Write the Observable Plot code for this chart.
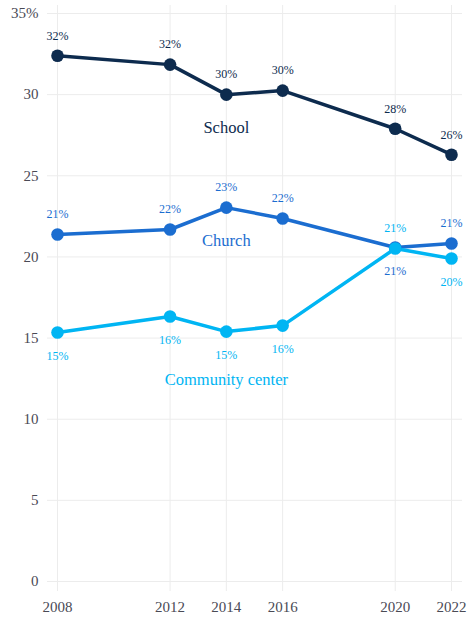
<!DOCTYPE html>
<html>
<head>
<meta charset="utf-8">
<script src="https://cdn.jsdelivr.net/npm/d3@7"></script>
<script src="https://cdn.jsdelivr.net/npm/@observablehq/plot@0.6"></script>
<style>
  html, body { margin: 0; padding: 0; background: #fff; }
  #chart svg { display: block; }
</style>
</head>
<body>
<div id="chart"></div>
<script>
const years = [2008, 2012, 2014, 2016, 2020, 2022];
const seriesNames = ["School", "Church", "Community center"];
const schoolValues = [32.4, 31.85, 30.0, 30.25, 27.9, 26.3];
const churchValues = [21.38, 21.69, 23.04, 22.37, 20.58, 20.83];
const communityValues = [15.34, 16.33, 15.4, 15.77, 20.52, 19.9];
const schoolPlacement = ["above", "above", "above", "above", "above", "above"];
const churchPlacement = ["above", "above", "above", "above", "below", "above"];
const communityPlacement = ["below", "below", "below", "below", "above", "below"];
const colors = ["#0d2b4e", "#1b6dd0", "#00b5f3"];
const nameYears = [2014, 2014, 2014];
const nameValues = [27.97, 21.0, 12.45];
const yTicks = [0, 5, 10, 15, 20, 25, 30, 35];

const valuesBySeries = [schoolValues, churchValues, communityValues];
const placeBySeries = [schoolPlacement, churchPlacement, communityPlacement];
const rows = [];
seriesNames.forEach((s, i) => {
  years.forEach((y, j) => {
    rows.push({series: s, year: y, value: valuesBySeries[i][j], place: placeBySeries[i][j]});
  });
});
const names = seriesNames.map((s, i) => ({series: s, year: nameYears[i], value: nameValues[i]}));

const font = "'Liberation Serif', 'DejaVu Serif', serif";
const colorScale = {domain: seriesNames, range: colors};

const plot = Plot.plot({
  width: 468,
  height: 623,
  marginTop: 5,
  marginBottom: 32,
  marginLeft: 47,
  marginRight: 6,
  style: {fontFamily: font, background: "#fff"},
  x: {domain: [2008, 2022], insetLeft: 10, insetRight: 11, ticks: years, tickFormat: d => String(d), label: null},
  y: {domain: [0, 35], insetTop: 8, insetBottom: 10, ticks: yTicks, label: null},
  color: colorScale,
  marks: [
    Plot.ruleY(yTicks, {stroke: "#ececec", strokeWidth: 1}),
    Plot.ruleX(years, {stroke: "#ececec", strokeWidth: 1}),
    Plot.axisX({ticks: years, tickSize: 0, tickPadding: 10, tickFormat: d => String(d), fontSize: 15, fill: "#4a4a55", label: null}),
    Plot.axisY({ticks: yTicks, tickSize: 0, tickPadding: 9, tickFormat: d => d === 35 ? "35%" : String(d), fontSize: 15, fill: "#4a4a55", label: null}),
    Plot.line(rows, {x: "year", y: "value", z: "series", stroke: d => d.series, strokeWidth: 3.5}),
    Plot.dot(rows, {x: "year", y: "value", fill: d => d.series, r: 6.3}),
    Plot.text(rows.filter(d => d.place === "above"), {x: "year", y: "value", text: d => Math.round(d.value) + "%", fill: d => d.series, dy: -20, fontSize: 12}),
    Plot.text(rows.filter(d => d.place === "below"), {x: "year", y: "value", text: d => Math.round(d.value) + "%", fill: d => d.series, dy: 24, fontSize: 12}),
    Plot.text(names, {x: "year", y: "value", text: "series", fill: d => d.series, fontSize: 16.5})
  ]
});
document.getElementById("chart").appendChild(plot);
</script>
</body>
</html>
